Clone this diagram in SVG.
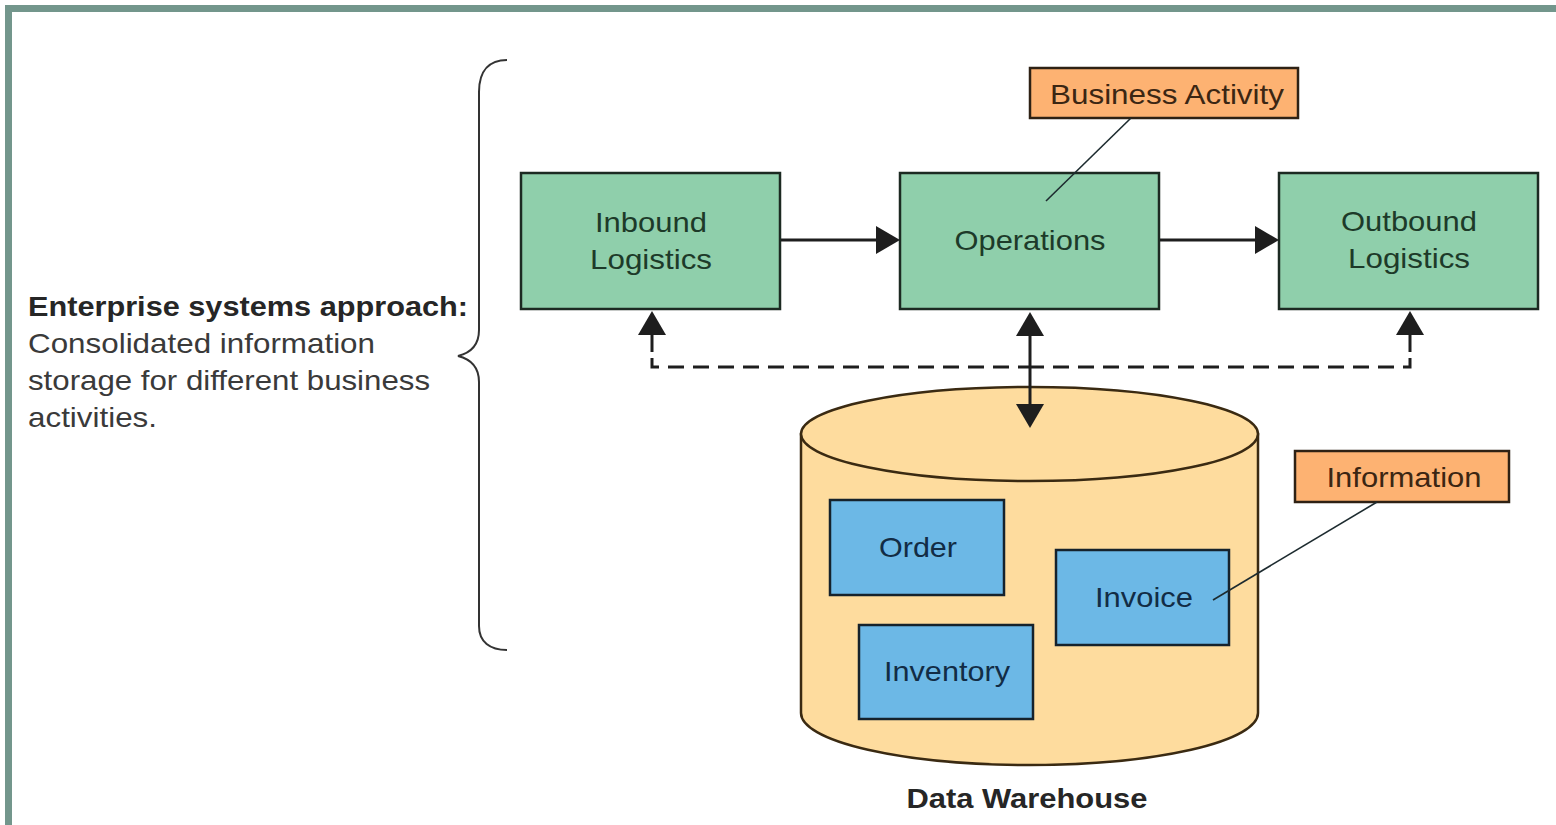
<svg xmlns="http://www.w3.org/2000/svg" width="1556" height="825" viewBox="0 0 1556 825">
  <style>
    .txt { font-family: "Liberation Sans", Arial, sans-serif; font-size: 28px; }
    .green rect { fill: #8fcfab; stroke: #1c2a22; stroke-width: 2.5; }
    .green text { fill: #1d3a29; text-anchor: middle; }
    .blue rect { fill: #6cb8e6; stroke: #15222c; stroke-width: 2.5; }
    .blue text { fill: #122c45; text-anchor: middle; }
    .tag rect { fill: #fdb272; stroke: #2e2114; stroke-width: 2.5; }
    .tag text { fill: #3b2613; text-anchor: middle; }
    .flow { stroke: #1e1e1e; stroke-width: 3; fill: none; }
    .dash { stroke-dasharray: 16 9; }
    .leader { stroke: #1d2b2f; stroke-width: 1.6; fill: none; }
  </style>
  <defs>
    <marker id="head" markerUnits="userSpaceOnUse" markerWidth="24" markerHeight="28" refX="16" refY="14" orient="auto-start-reverse" viewBox="0 0 24 28">
      <path d="M0,0 L24,14 L0,28 Z" fill="#1e1e1e"/>
    </marker>
  </defs>

  <rect width="1556" height="825" fill="#ffffff"/>

  <!-- frame -->
  <g id="frame" fill="#73968c">
    <rect x="5" y="5" width="1551" height="7"/>
    <rect x="5" y="5" width="7" height="820"/>
  </g>

  <!-- caption and brace -->
  <g id="caption" class="txt">
    <text x="28" y="316" font-weight="bold" fill="#262626" textLength="440" lengthAdjust="spacingAndGlyphs">Enterprise systems approach:</text>
    <text x="28" y="353" fill="#3a3a3a" textLength="347" lengthAdjust="spacingAndGlyphs">Consolidated information</text>
    <text x="28" y="390" fill="#3a3a3a" textLength="402" lengthAdjust="spacingAndGlyphs">storage for different business</text>
    <text x="28" y="427" fill="#3a3a3a" textLength="129" lengthAdjust="spacingAndGlyphs">activities.</text>
  </g>
  <path id="brace" d="M507,60 C490,60 479,70 479,92 L479,330 C479,345 470,353 458,356 C470,359 479,367 479,382 L479,626 C479,642 490,650 507,650" fill="none" stroke="#333333" stroke-width="2"/>

  <!-- data warehouse cylinder -->
  <g id="warehouse">
    <path d="M801,434 L801,713 A228.5,52 0 0 0 1258,713 L1258,434 Z" fill="#fedc9e" stroke="#3a2a12" stroke-width="2.5"/>
    <ellipse cx="1029.5" cy="434" rx="228.5" ry="47" fill="#fedc9e" stroke="#3a2a12" stroke-width="2.5"/>
    <text class="txt" x="1027" y="808" font-weight="bold" fill="#262626" text-anchor="middle" textLength="241" lengthAdjust="spacingAndGlyphs">Data Warehouse</text>
  </g>

  <!-- value chain activities -->
  <g id="inbound" class="green txt">
    <rect x="521" y="173" width="259" height="136"/>
    <text x="651" y="232" textLength="112" lengthAdjust="spacingAndGlyphs">Inbound</text>
    <text x="651" y="269" textLength="122" lengthAdjust="spacingAndGlyphs">Logistics</text>
  </g>
  <g id="operations" class="green txt">
    <rect x="900" y="173" width="259" height="136"/>
    <text x="1030" y="250" textLength="151" lengthAdjust="spacingAndGlyphs">Operations</text>
  </g>
  <g id="outbound" class="green txt">
    <rect x="1279" y="173" width="259" height="136"/>
    <text x="1409" y="231" textLength="136" lengthAdjust="spacingAndGlyphs">Outbound</text>
    <text x="1409" y="268" textLength="122" lengthAdjust="spacingAndGlyphs">Logistics</text>
  </g>

  <!-- records in the warehouse -->
  <g id="order" class="blue txt">
    <rect x="830" y="500" width="174" height="95"/>
    <text x="918" y="557" textLength="78" lengthAdjust="spacingAndGlyphs">Order</text>
  </g>
  <g id="invoice" class="blue txt">
    <rect x="1056" y="550" width="173" height="95"/>
    <text x="1144" y="607" textLength="98" lengthAdjust="spacingAndGlyphs">Invoice</text>
  </g>
  <g id="inventory" class="blue txt">
    <rect x="859" y="625" width="174" height="94"/>
    <text x="947" y="681" textLength="126" lengthAdjust="spacingAndGlyphs">Inventory</text>
  </g>

  <!-- callout tags -->
  <g id="business-activity" class="tag txt">
    <rect x="1030" y="68" width="268" height="50"/>
    <text x="1167" y="104" textLength="234" lengthAdjust="spacingAndGlyphs">Business Activity</text>
  </g>
  <g id="information" class="tag txt">
    <rect x="1295" y="451" width="214" height="51"/>
    <text x="1404" y="487" textLength="155" lengthAdjust="spacingAndGlyphs">Information</text>
  </g>

  <!-- connectors -->
  <g id="connectors">
    <line class="flow" x1="781" y1="240" x2="892" y2="240" marker-end="url(#head)"/>
    <line class="flow" x1="1160" y1="240" x2="1271" y2="240" marker-end="url(#head)"/>
    <line class="flow" x1="652" y1="352" x2="652" y2="319" marker-end="url(#head)"/>
    <line class="flow" x1="1410" y1="352" x2="1410" y2="319" marker-end="url(#head)"/>
    <!-- shared dashed return path, drawn from both ends so each corner starts on a dash -->
    <path class="flow dash" d="M652,358 L652,367 L1031,367"/>
    <path class="flow dash" d="M1410,358 L1410,367 L1031,367"/>
    <line class="flow" x1="1030" y1="320" x2="1030" y2="420" marker-start="url(#head)" marker-end="url(#head)"/>
    <line class="leader" x1="1131" y1="118" x2="1046" y2="201"/>
    <line class="leader" x1="1377" y1="502" x2="1213" y2="600"/>
  </g>
</svg>
